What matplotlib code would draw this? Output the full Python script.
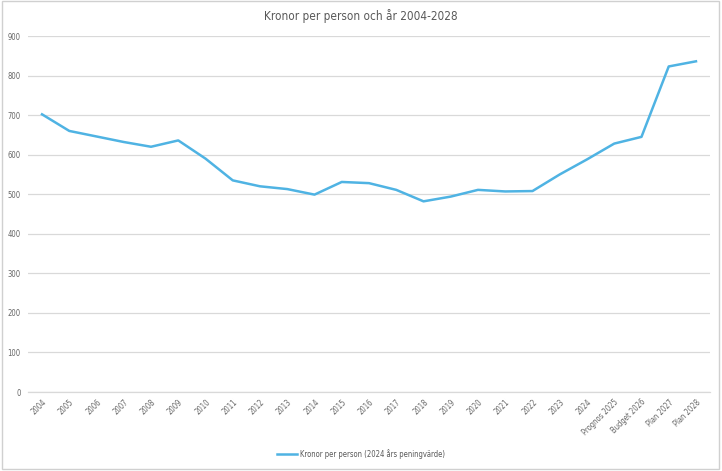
import matplotlib
matplotlib.use("Agg")
import matplotlib.pyplot as plt
from matplotlib.patches import Rectangle

plt.rcParams['font.family'] = ['DejaVu Sans']
plt.rcParams['font.stretch'] = 'condensed'

categories = ["2004", "2005", "2006", "2007", "2008", "2009", "2010", "2011", "2012",
              "2013", "2014", "2015", "2016", "2017", "2018", "2019", "2020", "2021",
              "2022", "2023", "2024", "Prognos 2025", "Budget 2026", "Plan 2027", "Plan 2028"]
values = [702, 660, 646, 632, 620, 636, 590, 535, 520, 513, 499, 531, 528, 511, 482, 494,
          511, 507, 508, 550, 588, 628, 645, 823, 836]
series_name = "Kronor per person (2024 års peningvärde)"
title = "Kronor per person och år 2004-2028"
yticks = [0, 100, 200, 300, 400, 500, 600, 700, 800, 900]

fig = plt.figure(figsize=(7.22, 4.71), dpi=100)
ax = fig.add_axes([28.4 / 722, 1 - 392 / 471, (709.6 - 28.4) / 722, (392 - 36) / 471])

x = list(range(len(categories)))
line, = ax.plot(x, values, color='#4FB3E3', linewidth=1.8, solid_joinstyle='round',
                label=series_name, zorder=3)

ax.set_xlim(-0.5, len(categories) - 0.5)
ax.set_ylim(0, 900)
ax.set_yticks(yticks)
ax.set_yticklabels([str(v) for v in yticks], fontsize=5.5, color='#666666')
ax.set_xticks(x)
ax.set_xticklabels(categories, rotation=45, ha='right', rotation_mode='anchor',
                   fontsize=5.5, color='#666666')
ax.tick_params(axis='both', length=0, pad=4)
ax.tick_params(axis='y', pad=5.5)
ax.grid(axis='y', color='#D9D9D9', linewidth=0.9)
ax.set_axisbelow(True)
for s in ['top', 'right', 'left']:
    ax.spines[s].set_visible(False)
ax.spines['bottom'].set_color('#D9D9D9')
ax.spines['bottom'].set_linewidth(0.9)

fig.text(0.5, 1 - 16 / 471, title, ha='center', va='center', fontsize=8.5, color='#595959')

leg = fig.legend(handles=[line], loc='center', bbox_to_anchor=(0.5, 1 - 454 / 471),
                 frameon=False, fontsize=5.5, handlelength=2.6, handletextpad=0.3)
for t in leg.get_texts():
    t.set_color('#595959')

fig.patches.append(Rectangle((1.5 / 722, 2.5 / 471), 717 / 722, 467.5 / 471,
                             transform=fig.transFigure, fill=False,
                             edgecolor='#D0D0D0', linewidth=1.0))

fig.savefig("out.png", dpi=100, facecolor='white')
